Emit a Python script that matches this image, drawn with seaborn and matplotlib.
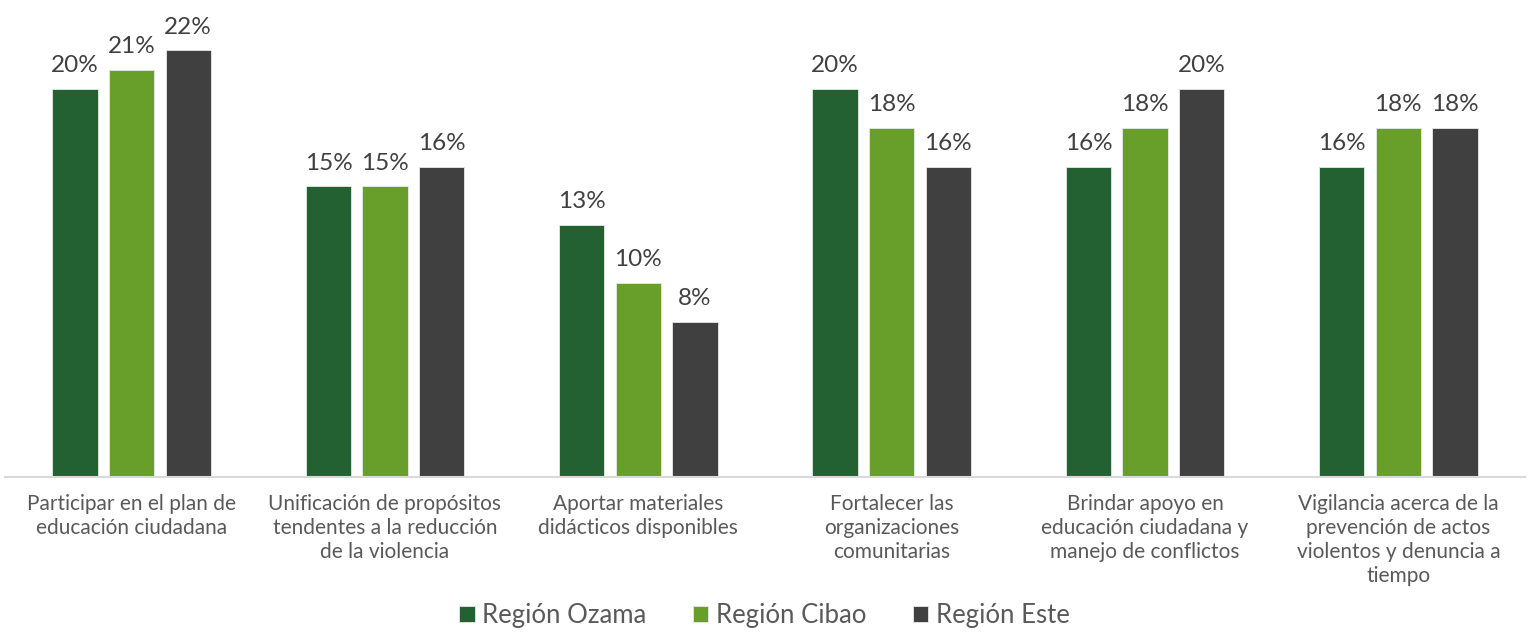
import pandas as pd
import matplotlib
matplotlib.use("Agg")
import matplotlib.pyplot as plt
import seaborn as sns

categories = [
    "Participar en el plan de\neducación ciudadana",
    "Unificación de propósitos\ntendentes a la reducción\nde la violencia",
    "Aportar materiales\ndidácticos disponibles",
    "Fortalecer las\norganizaciones\ncomunitarias",
    "Brindar apoyo en\neducación ciudadana y\nmanejo de conflictos",
    "Vigilancia acerca de la\nprevención de actos\nviolentos y denuncia a\ntiempo",
]
regions = ["Región Ozama", "Región Cibao", "Región Este"]
ozama = [20, 15, 13, 20, 16, 16]
cibao = [21, 15, 10, 18, 18, 18]
este = [22, 16, 8, 16, 20, 18]
colors = ["#236133", "#689F2B", "#404040"]

rows = []
for reg, vals in zip(regions, [ozama, cibao, este]):
    for cat, v in zip(categories, vals):
        rows.append({"cat": cat, "region": reg, "value": v})
df = pd.DataFrame(rows)

sns.set_style("white")
plt.rcParams["font.family"] = ["Lato", "DejaVu Sans"]

fig = plt.figure(figsize=(15.29, 6.32), dpi=100)
ax = fig.add_axes([5 / 1529, 155 / 632, 1520 / 1529, 477 / 632])

sns.barplot(data=df, x="cat", y="value", hue="region", palette=colors,
            saturation=1, width=0.67, gap=0.2, edgecolor="#E8E8E8", linewidth=0.6,
            order=categories, hue_order=regions, ax=ax)

for cont in ax.containers:
    ax.bar_label(cont, labels=[f"{v:.0f}%" for v in cont.datavalues],
                 padding=9, fontsize=17.5, color="#404040")

ax.set_ylim(0, 477 / 19.4)
ax.set_yticks([])
ax.set_xlabel("")
ax.set_ylabel("")
for s in ["top", "right", "left"]:
    ax.spines[s].set_visible(False)
ax.spines["bottom"].set_color("#D9D9D9")
ax.spines["bottom"].set_linewidth(1.5)
ax.tick_params(axis="x", length=0, pad=12, labelsize=15, colors="#595959")
for lab in ax.get_xticklabels():
    lab.set_linespacing(1.25)

handles, labels = ax.get_legend_handles_labels()
ax.get_legend().remove()
fig.legend(handles, labels, loc="lower center", bbox_to_anchor=(0.5, -0.02), ncol=3,
           frameon=False, fontsize=18.5, handlelength=0.6, handleheight=0.6,
           handletextpad=0.3, columnspacing=1.8, labelcolor="#595959", borderpad=0.15)

fig.savefig("out.png", dpi=100)
